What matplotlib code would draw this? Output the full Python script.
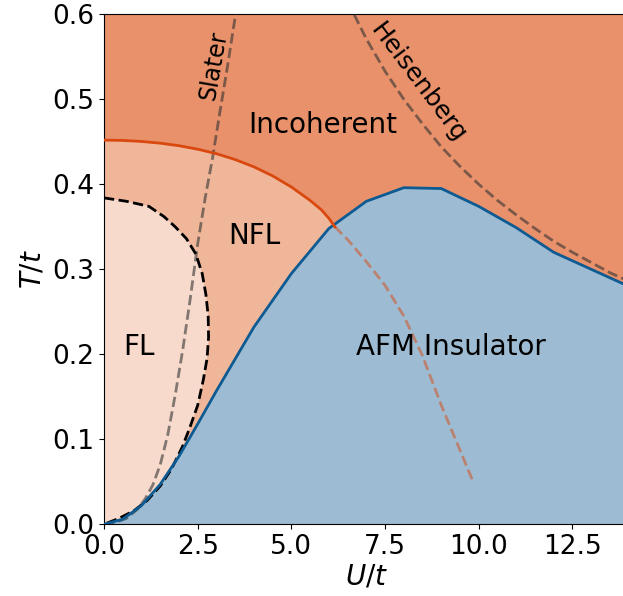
import numpy as np
import matplotlib.pyplot as plt

# AFM insulator boundary (solid blue)
u_afm = [0, 0.5, 1, 1.5, 2, 2.5, 3, 4, 5, 6, 7, 8, 9, 10, 11, 12, 13, 14]
t_afm = [0, 0.006, 0.022, 0.047, 0.08, 0.118, 0.157, 0.232, 0.295, 0.348,
         0.380, 0.396, 0.395, 0.374, 0.349, 0.320, 0.300, 0.280]

# incoherent crossover (solid orange) and its continuation under the dome
u_inc = [0, 0.5, 1, 1.5, 2, 2.5, 3, 3.5, 4, 4.5, 5, 5.5, 5.8, 6.0, 6.16]
t_inc = [0.452, 0.4516, 0.4504, 0.4484, 0.4454, 0.4413, 0.436, 0.4291,
         0.4205, 0.4099, 0.3968, 0.381, 0.370, 0.360, 0.350]
u_inc_afm = [6.16, 6.5, 7.0, 7.5, 8.0, 8.5, 9.0, 9.5, 9.85]
t_inc_afm = [0.350, 0.335, 0.309, 0.281, 0.245, 0.198, 0.140, 0.087, 0.050]

# Fermi liquid boundary (black dashed)
u_fl = [0, 0.6, 1.2, 1.6, 1.9, 2.2, 2.45, 2.62, 2.72, 2.78, 2.79, 2.75,
        2.65, 2.5, 2.3, 2.1, 1.8, 1.5, 1.15, 0.8, 0.4, 0]
t_fl = [0.384, 0.380, 0.374, 0.362, 0.350, 0.336, 0.318, 0.295, 0.27, 0.245,
        0.22, 0.195, 0.170, 0.140, 0.115, 0.092, 0.065, 0.045, 0.028, 0.016,
        0.007, 0.0]

# Slater and Heisenberg guides
u_slater = [0, 0.3, 0.6, 0.9, 1.1, 1.3, 1.5, 1.7, 1.9, 2.1, 2.3, 2.5, 2.7,
            2.9, 3.1, 3.3, 3.5, 3.56]
t_slater = [0, 0.002, 0.007, 0.018, 0.030, 0.046, 0.07, 0.105, 0.152, 0.205,
            0.265, 0.330, 0.384, 0.432, 0.487, 0.54, 0.597, 0.615]
u_heis = [6.5, 7, 7.5, 8, 8.5, 9, 9.5, 10, 10.5, 11, 11.5, 12, 12.5, 13,
          13.5, 14]
t_heis = [0.615, 0.571, 0.533, 0.500, 0.471, 0.444, 0.421, 0.400, 0.381,
          0.364, 0.348, 0.333, 0.320, 0.308, 0.296, 0.286]

c_inc = '#E8916A'
c_nfl = '#F0B699'
c_fl = '#F7DACC'
c_afm = '#9DBCD3'
c_orange = '#D9480F'
c_blue = '#0E5A92'
c_guide = '#333333'

fig = plt.figure(figsize=(6.23, 5.96), dpi=100)
ax = fig.add_axes([104/623, 71.7/596, 524.7/623, 510/596])
ax.set_facecolor(c_inc)

ax.fill_between(u_inc, 0, t_inc, color=c_nfl, lw=0, zorder=1)
ax.fill(u_fl, t_fl, color=c_fl, lw=0, zorder=1.5)
ax.fill_between(u_afm, 0, t_afm, color=c_afm, lw=0, zorder=2)

ax.plot(u_slater, t_slater, '--', color=c_guide, alpha=0.6, lw=2, zorder=3)
ax.plot(u_heis, t_heis, '--', color=c_guide, alpha=0.6, lw=2, zorder=3)
ax.plot(u_fl, t_fl, '--', color='k', lw=2, zorder=4)
ax.plot(u_inc_afm, t_inc_afm, '--', color=c_orange, alpha=0.5, lw=2, zorder=3)
ax.plot(u_afm, t_afm, color=c_blue, lw=2, zorder=5)
ax.plot(u_inc, t_inc, color=c_orange, lw=2, zorder=5)

ax.text(5.84, 0.470, 'Incoherent', fontsize=20, ha='center', va='center', zorder=6)
ax.text(4.0, 0.339, 'NFL', fontsize=20, ha='center', va='center', zorder=6)
ax.text(0.93, 0.209, 'FL', fontsize=20, ha='center', va='center', zorder=6)
ax.text(9.26, 0.209, 'AFM Insulator', fontsize=20, ha='center', va='center', zorder=6)
ax.text(2.93, 0.540, 'Slater', fontsize=17, rotation=80, ha='center', va='center',
        rotation_mode='anchor', zorder=6)
ax.text(8.38, 0.519, 'Heisenberg', fontsize=18, rotation=-53, ha='center',
        va='center', rotation_mode='anchor', zorder=6)

ax.set_xlim(0, 14)
ax.set_ylim(0, 0.6)
ax.set_xticks(np.arange(0, 13, 2.5))
ax.set_yticks(np.arange(0, 0.61, 0.1))
ax.tick_params(labelsize=19)
ax.set_xlabel('$U/t$', fontsize=20, labelpad=2)
ax.set_ylabel('$T/t$', fontsize=20, labelpad=4)

fig.savefig('out.png', dpi=100)
